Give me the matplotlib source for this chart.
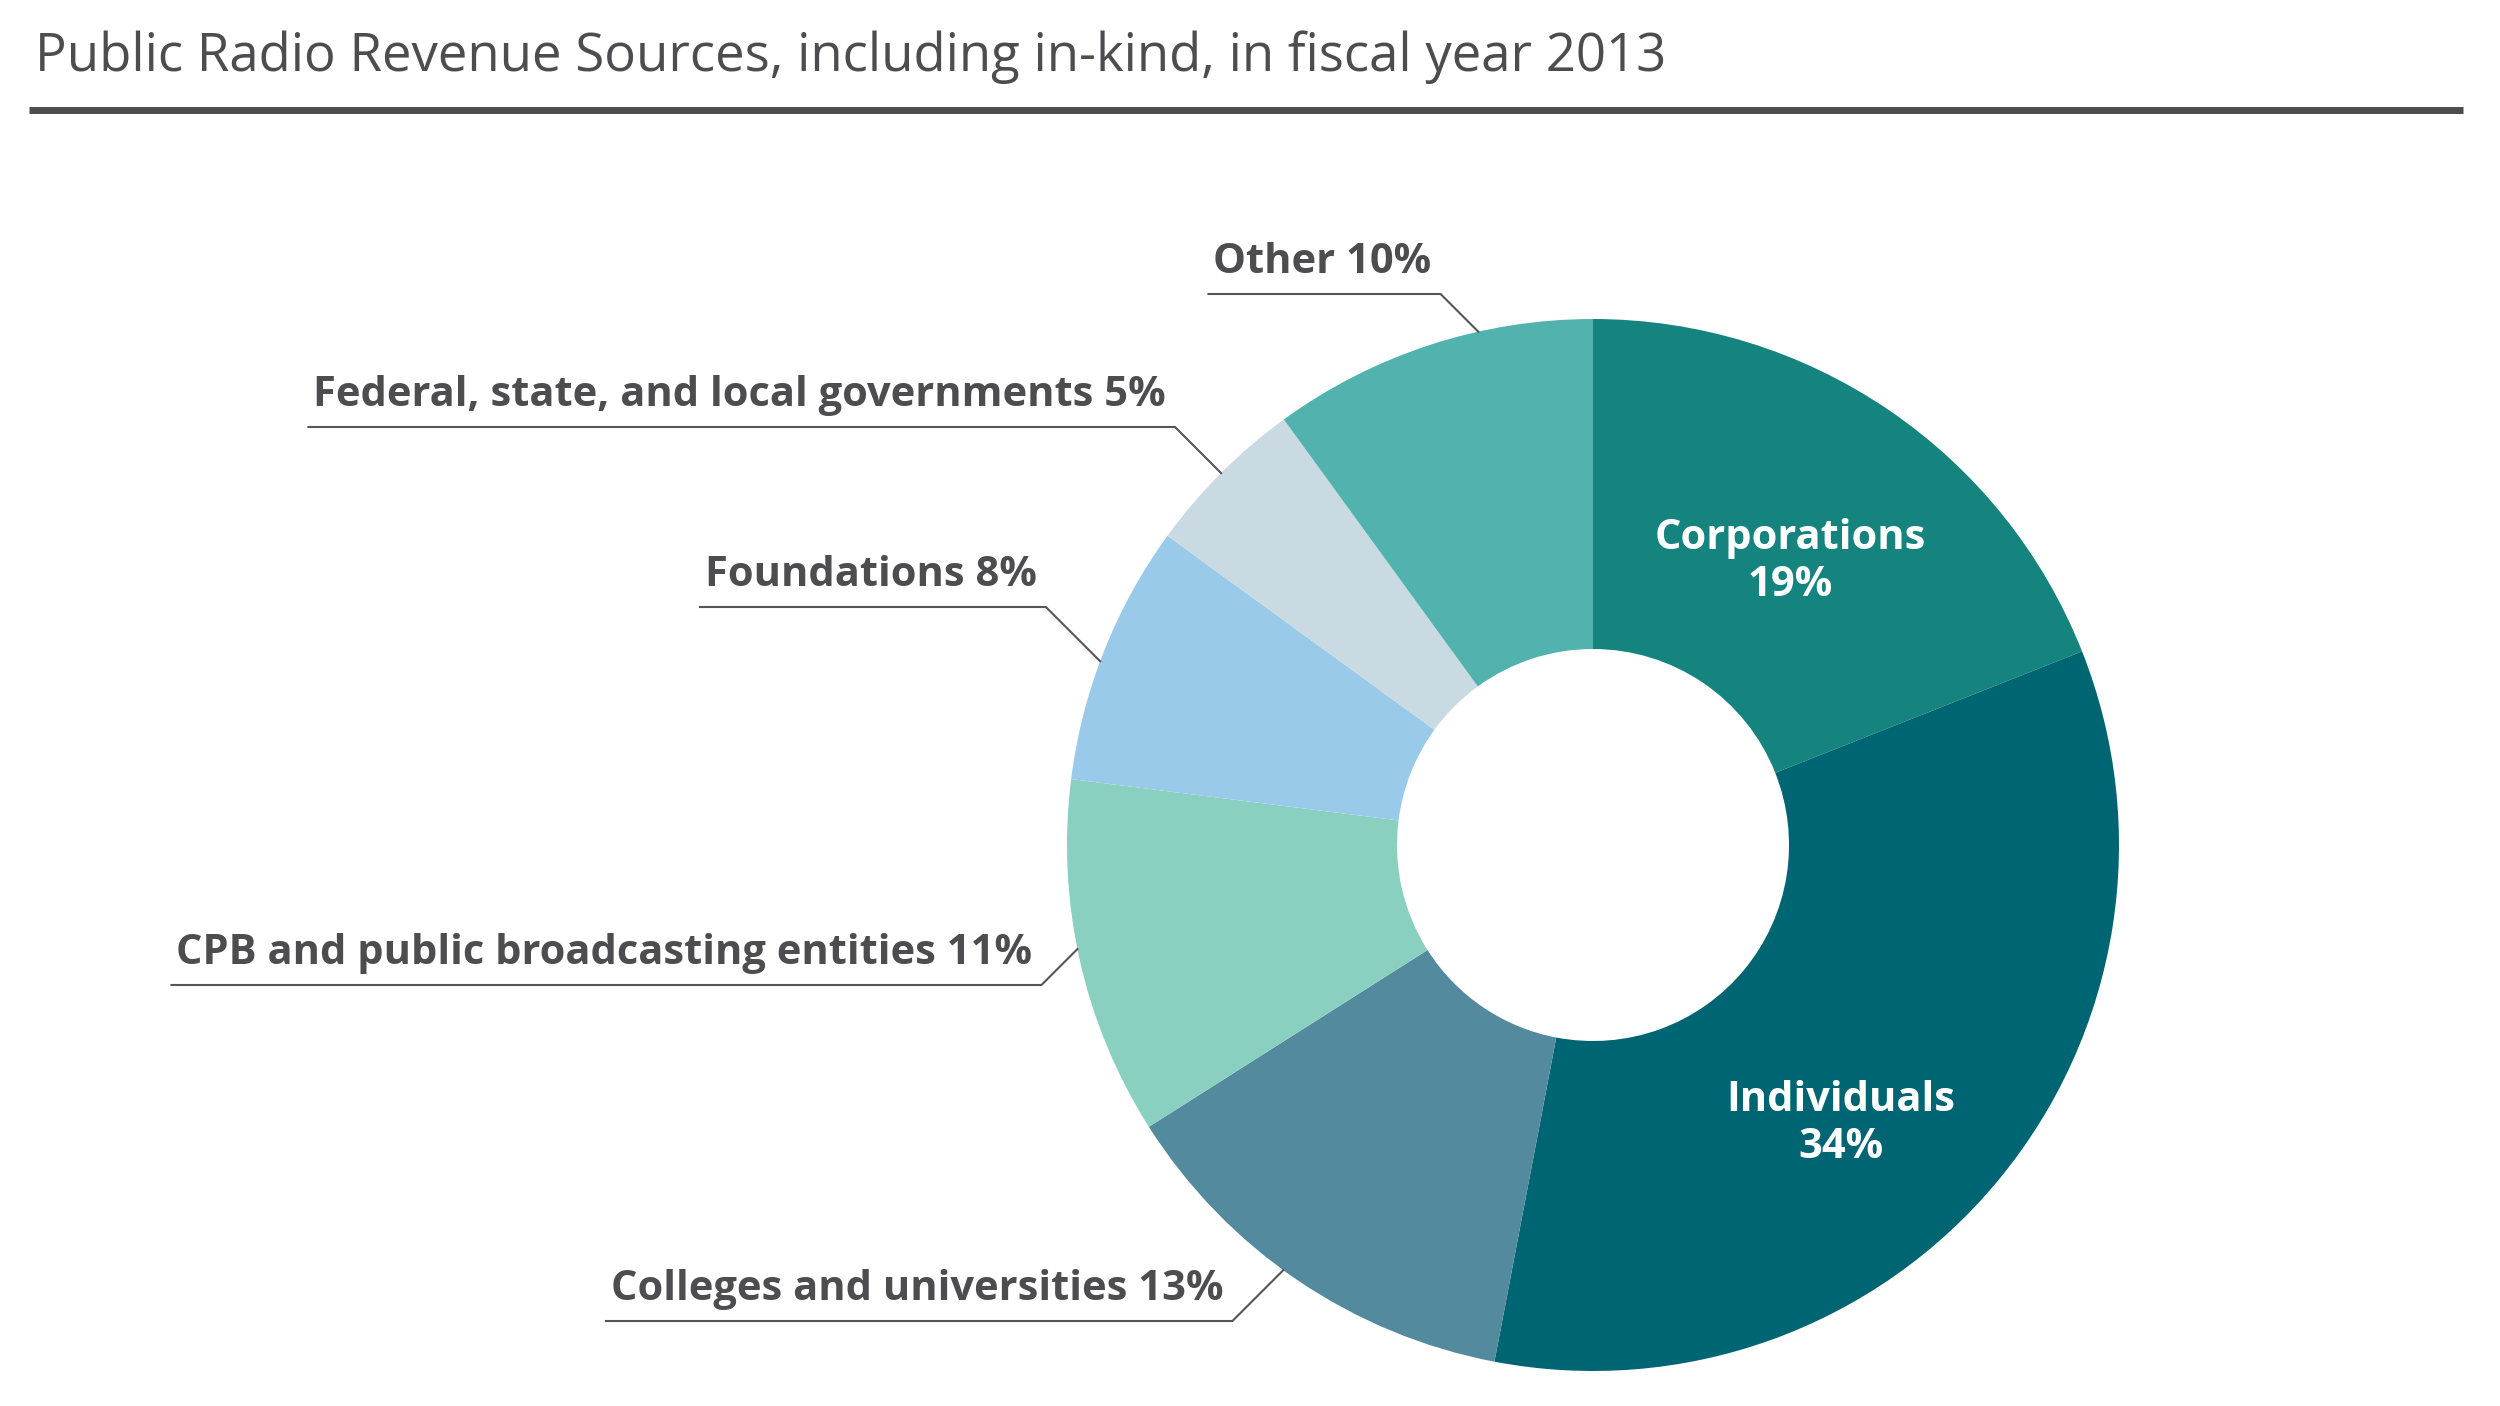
import numpy as np
import matplotlib.pyplot as plt

# Data ──────────────────────────────────────────────
categorias = ["Corporations", "Individuals", "Colleges and universities",
              "CPB and public broadcasting entities", "Foundations",
              "Federal, state, and local governments", "Other"]
valores = [19, 34, 13, 11, 8, 5, 10]
cores = ["#15847F", "#006573", "#548A9D", "#8AD0C0", "#99CAEA", "#CADAE2", "#52B3AE"]

titulo = "Public Radio Revenue Sources, including in-kind, in fiscal year 2013"

# Layout (pixel coords, y from top) ──────────────────────────────────────────────
W, H = 2500, 1406
cx, cy = 1593, 845
R, R_in = 526, 196
cinza = "#4D4D4F"

# rótulos externos: índice -> (y da linha de baixo, posição relativa dentro da fatia)
externos = {6: (294, 0.65), 5: (427, 0.5), 4: (607, 0.46), 3: (985, 0.53), 2: (1321, 0.54)}
# rótulos internos (brancos)
internos = {0: (1790, 562), 1: (1841, 1124)}

fig = plt.figure(figsize=(W / 100, H / 100), dpi=100)
ax = fig.add_axes([0, 0, 1, 1])

def Y(y):
    return H - y

ax.pie(valores, colors=cores, startangle=90, counterclock=False,
       center=(cx, Y(cy)), radius=R,
       wedgeprops=dict(width=R - R_in, edgecolor="none", linewidth=0))
ax.set_xlim(0, W)
ax.set_ylim(0, H)
ax.set_aspect("equal")
ax.axis("off")

# título + régua
fig.text(35 / W, 1 - 57 / H, titulo, fontsize=38, family="Open Sans",
         color=cinza, va="center", ha="left")
ax.plot([29, 2463], [Y(110), Y(110)], color=cinza, lw=5, solid_capstyle="butt")

# ângulos acumulados (horário a partir do topo)
frac = np.array(valores) / sum(valores)
inicio = np.concatenate([[0], np.cumsum(frac)[:-1]]) * 360
fim = np.cumsum(frac) * 360

renderer = fig.canvas.get_renderer()
inv = ax.transData.inverted()

for i, (uy, pos) in externos.items():
    th = np.deg2rad(inicio[i] + pos * (fim[i] - inicio[i]))
    ex = cx + R * np.sin(th)
    ey = cy - R * np.cos(th)
    kx = ex - abs(ey - uy)
    t = ax.text(kx - 9, Y(uy - 21), f"{categorias[i]} {valores[i]}%",
                fontsize=30, fontweight="bold", family="Open Sans",
                color=cinza, ha="right", va="baseline")
    bb = t.get_window_extent(renderer)
    x_esq = inv.transform((bb.x0, bb.y0))[0]
    ax.plot([x_esq - 5, kx, ex], [Y(uy), Y(uy), Y(ey)],
            color="#555555", lw=1.5, solid_joinstyle="miter")

for i, (x, y) in internos.items():
    ax.text(x, Y(y), f"{categorias[i]}\n{valores[i]}%", fontsize=30,
            fontweight="bold", family="Open Sans", color="white",
            ha="center", va="center", linespacing=1.2)

fig.savefig("out.png", dpi=100)
